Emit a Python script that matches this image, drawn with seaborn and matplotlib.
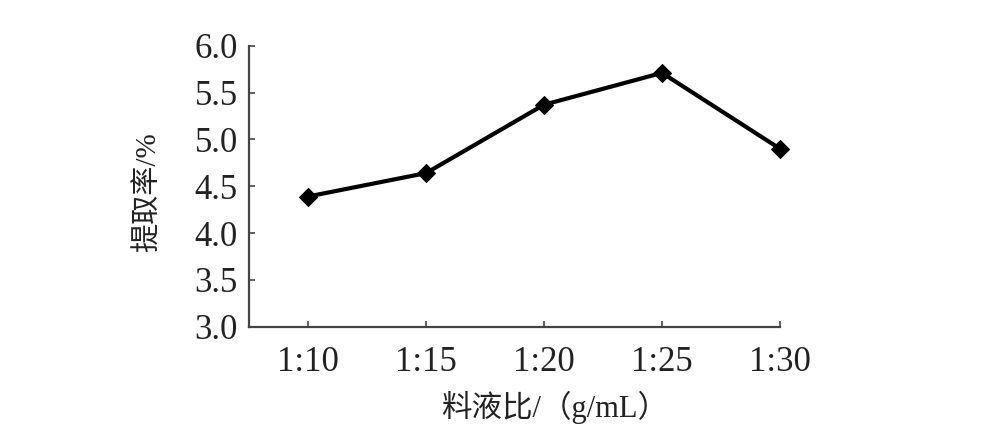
import matplotlib
matplotlib.use("Agg")
import matplotlib.pyplot as plt
import seaborn as sns
import pandas as pd

# dados
ratios = ["1:10", "1:15", "1:20", "1:25", "1:30"]
yield_pct = [4.39, 4.64, 5.37, 5.71, 4.90]
y_ticks = [3.0, 3.5, 4.0, 4.5, 5.0, 5.5, 6.0]

df = pd.DataFrame({"ratio": ratios, "yield": yield_pct})

sns.set_style("ticks")
plt.rcParams['font.family'] = ['Liberation Serif', 'Noto Sans CJK SC', 'DejaVu Sans']

fig = plt.figure(figsize=(10.01, 4.4), dpi=100)
ax = fig.add_axes([0.2488, 0.2575, 0.5304, 0.6386])

sns.lineplot(data=df, x="ratio", y="yield", ax=ax, color="black",
             linewidth=3, marker="D", markersize=9, markeredgecolor="black",
             sort=False, clip_on=False)

ax.set_xlim(-0.5, 4.0)
ax.set_ylim(3.0, 6.0)
ax.set_yticks(y_ticks)
ax.set_yticklabels([f"{v:.1f}" for v in y_ticks])
ax.set_xticks(range(len(ratios)))
ax.set_xticklabels(ratios)

sns.despine(ax=ax)
for s in ["left", "bottom"]:
    ax.spines[s].set_color("#444444")
    ax.spines[s].set_linewidth(1.6)
ax.tick_params(direction="in", length=4, width=1.2, color="#444444",
               labelsize=25, labelcolor="#222222", pad=8)
ax.tick_params(axis="x", pad=14)

ax.set_xlabel("料液比/（g/mL）", fontsize=22, color="#222222")
ax.set_ylabel("提取率/%", fontsize=21, color="#222222")
ax.xaxis.set_label_coords(0.575, -0.227)
ax.yaxis.set_label_coords(-0.163, 0.48)

fig.savefig("out.png", dpi=100)
plt.close()
